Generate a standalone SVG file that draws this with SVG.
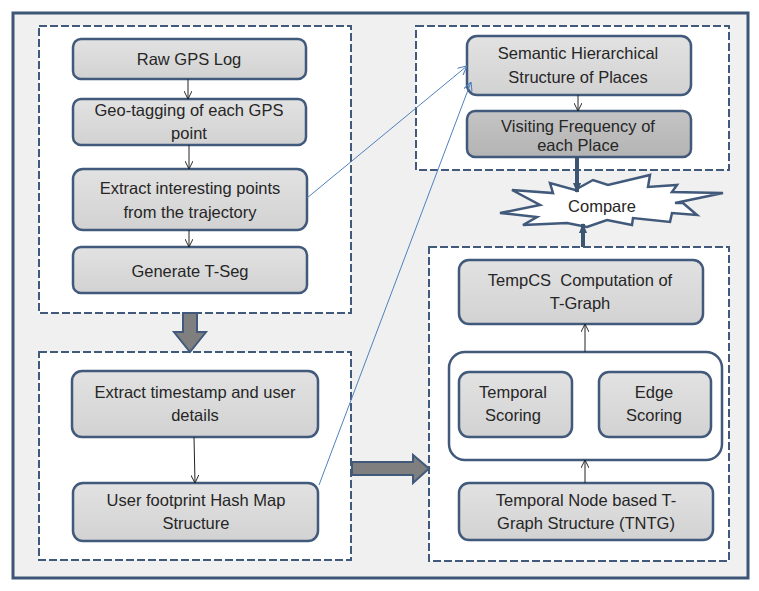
<svg xmlns="http://www.w3.org/2000/svg" width="759" height="591" viewBox="0 0 759 591">
<defs>
<linearGradient id="g" x1="0" y1="0" x2="0" y2="1">
<stop offset="0" stop-color="#e2e2e2"/><stop offset="1" stop-color="#d2d2d2"/>
</linearGradient>
<linearGradient id="g2" x1="0" y1="0" x2="0" y2="1">
<stop offset="0" stop-color="#c4c4c4"/><stop offset="1" stop-color="#b4b4b4"/>
</linearGradient>
<marker id="ah" viewBox="0 0 10 10" refX="10" refY="5" markerWidth="8" markerHeight="8" orient="auto" markerUnits="userSpaceOnUse">
<path d="M0,0 L10,5 L0,10" fill="none" stroke="#222" stroke-width="1.2"/>
</marker>
<marker id="ahb" viewBox="0 0 10 10" refX="10" refY="5" markerWidth="9" markerHeight="9" orient="auto" markerUnits="userSpaceOnUse">
<path d="M0,0 L10,5 L0,10" fill="none" stroke="#4f81bd" stroke-width="1.2"/>
</marker>
<marker id="ahk" viewBox="0 0 10 10" refX="9" refY="5" markerWidth="10" markerHeight="10" orient="auto" markerUnits="userSpaceOnUse">
<path d="M0,1 L10,5 L0,9 Z" fill="#3b5573"/>
</marker>
</defs>
<style>
.frame{fill:#f0f0f0;stroke:#3d5677;stroke-width:3}
.dash{fill:#ffffff;stroke:#41597a;stroke-width:2;stroke-dasharray:8 3}
.node{fill:url(#g);stroke:#41597a;stroke-width:2.5}
.dark{fill:url(#g2);stroke:#41597a;stroke-width:2.5}
.cont{fill:#ffffff;stroke:#41597a;stroke-width:2.5}
text{font-family:"Liberation Sans",Arial,sans-serif;font-size:16.5px;fill:#262626;text-anchor:middle}
.thin{stroke:#222;stroke-width:1;fill:none;marker-end:url(#ah)}
.blue{stroke:#4f81bd;stroke-width:1;fill:none;marker-end:url(#ahb)}
.thick{stroke:#3b5573;stroke-width:4;fill:none;marker-end:url(#ahk)}
.big{fill:#7f7f7f;stroke:#41597a;stroke-width:2}
</style>
<rect class="frame" x="13" y="13" width="735" height="565"/>
<g id="containers">
<rect class="dash" x="39" y="26" width="312" height="287"/>
<rect class="dash" x="39" y="352" width="312" height="208"/>
<rect class="dash" x="416" y="26" width="313" height="144"/>
<rect class="dash" x="429" y="247" width="300" height="314"/>
</g>
<g id="n1"><rect class="node" x="73" y="39" width="233" height="40" rx="8"/><text x="189" y="65">Raw GPS Log</text></g>
<g id="n2"><rect class="node" x="73" y="99" width="233" height="46" rx="8"/><text x="189" y="116">Geo-tagging of each GPS</text><text x="189" y="139">point</text></g>
<g id="n3"><rect class="node" x="73" y="169" width="234" height="61" rx="10"/><text x="190" y="194">Extract interesting points</text><text x="190" y="218">from the trajectory</text></g>
<g id="n4"><rect class="node" x="73" y="247" width="234" height="46" rx="8"/><text x="190" y="277">Generate T-Seg</text></g>
<g id="n5"><rect class="node" x="72" y="371" width="246" height="66" rx="10"/><text x="195" y="398">Extract timestamp and user</text><text x="195" y="421">details</text></g>
<g id="n6"><rect class="node" x="73" y="483" width="245" height="58" rx="10"/><text x="196" y="506">User footprint Hash Map</text><text x="196" y="529">Structure</text></g>
<g id="n7"><rect class="node" x="467" y="36" width="224" height="59" rx="10"/><text x="578" y="59">Semantic Hierarchical</text><text x="578" y="83">Structure of Places</text></g>
<g id="n8"><rect class="dark" x="467" y="111" width="224" height="46" rx="8"/><text x="578" y="132">Visiting Frequency of</text><text x="578" y="151">each Place</text></g>
<g id="n9"><path d="M512,190 L553,193 L550,183 L575,190 L593,180 L608,185 L650,175 L648,187 L677,185 L672,192 L723,193 L675,203 L683,203 L697,215 L672,213 L670,222 L633,218 L632,225 L607,220 L587,227 L567,223 L523,225 L537,217 L500,213 L540,205 Z" fill="#ffffff" stroke="#41597a" stroke-width="2.5" stroke-linejoin="miter"/><text x="602" y="212">Compare</text></g>
<g id="n10"><rect class="node" x="459" y="260" width="244" height="64" rx="10"/><text x="580" y="286">TempCS&#160; Computation of</text><text x="580" y="309">T-Graph</text></g>
<g id="n11"><rect class="cont" x="449" y="352" width="273" height="108" rx="16"/></g>
<g id="n12"><rect class="node" x="459" y="372" width="113" height="65" rx="10"/><text x="513" y="398">Temporal</text><text x="513" y="421">Scoring</text></g>
<g id="n13"><rect class="node" x="599" y="372" width="112" height="65" rx="10"/><text x="654" y="398">Edge</text><text x="654" y="421">Scoring</text></g>
<g id="n14"><rect class="node" x="459" y="483" width="254" height="57" rx="10"/><text x="586" y="506">Temporal Node based T-</text><text x="586" y="529">Graph Structure (TNTG)</text></g>
<g id="connectors">
<line class="thin" x1="188" y1="79" x2="188" y2="99"/>
<line class="thin" x1="189" y1="145" x2="189" y2="169"/>
<line class="thin" x1="189" y1="230" x2="189" y2="247"/>
<line class="thin" x1="194" y1="437" x2="195" y2="483"/>
<line class="thin" x1="578" y1="95" x2="578" y2="111"/>
<line class="thin" x1="585" y1="352" x2="585" y2="324"/>
<line class="thin" x1="585" y1="483" x2="585" y2="460"/>
<line class="blue" x1="307" y1="198" x2="467" y2="66"/>
<line class="blue" x1="319" y1="485" x2="471" y2="82"/>
<line class="thick" x1="577" y1="157" x2="577" y2="192"/>
<line class="thick" x1="583" y1="247" x2="583" y2="224"/>
<path class="big" d="M183,313 L197,313 L197,332 L206,332 L190,352 L174,332 L183,332 Z"/>
<path class="big" d="M352,462 L413,462 L413,455 L429,468.5 L413,483 L413,475 L352,475 Z"/>
</g>
</svg>
